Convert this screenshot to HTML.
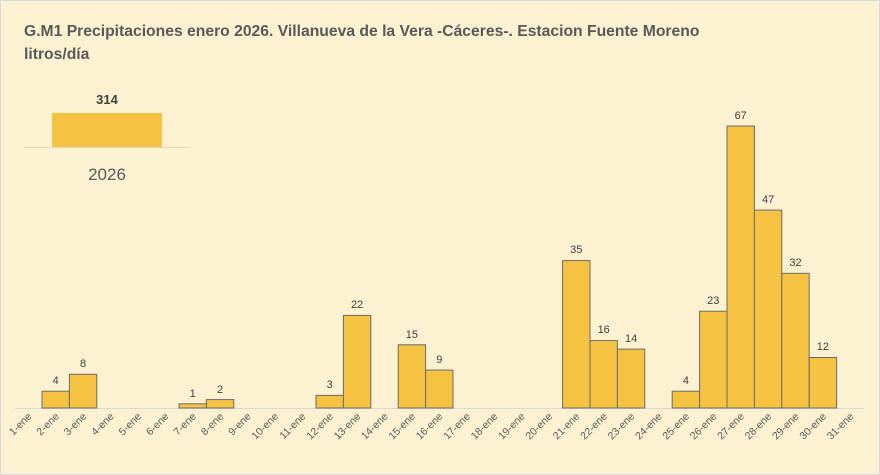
<!DOCTYPE html>
<html><head><meta charset="utf-8"><style>
html,body{margin:0;padding:0;background:#fff}
svg{display:block;font-family:"Liberation Sans",Arial,sans-serif}
</style></head><body>
<svg width="880" height="475" viewBox="0 0 880 475" xmlns="http://www.w3.org/2000/svg">
<rect x="0.5" y="0.5" width="879" height="474" fill="#fcf2d2" stroke="#d9d9d9"/>
<text x="24" y="36" font-size="15.7" font-weight="bold" fill="#595959">G.M1 Precipitaciones enero 2026. Villanueva de la Vera -Cáceres-. Estacion Fuente Moreno</text>
<text x="24" y="59" font-size="15.7" font-weight="bold" fill="#595959">litros/día</text>
<text x="107" y="104" font-size="13" font-weight="bold" fill="#404040" text-anchor="middle">314</text>
<rect x="52" y="113" width="110" height="34" fill="#f5c242"/>
<line x1="24" y1="147.5" x2="190" y2="147.5" stroke="#e0d8c0"/>
<text x="107" y="180" font-size="17" fill="#595959" text-anchor="middle">2026</text>
<line x1="15" y1="408.5" x2="864" y2="408.5" stroke="#d9d9d9"/>
<g fill="#f5c242" stroke="#6b6b6b" stroke-width="1">
<rect x="42.0" y="391.2" width="27.4" height="16.8"/>
<rect x="69.4" y="374.3" width="27.4" height="33.7"/>
<rect x="179.0" y="403.8" width="27.4" height="4.2"/>
<rect x="206.4" y="399.6" width="27.4" height="8.4"/>
<rect x="316.0" y="395.4" width="27.4" height="12.6"/>
<rect x="343.4" y="315.4" width="27.4" height="92.6"/>
<rect x="398.2" y="344.8" width="27.4" height="63.2"/>
<rect x="425.6" y="370.1" width="27.4" height="37.9"/>
<rect x="562.6" y="260.6" width="27.4" height="147.4"/>
<rect x="590.0" y="340.6" width="27.4" height="67.4"/>
<rect x="617.4" y="349.1" width="27.4" height="58.9"/>
<rect x="672.2" y="391.2" width="27.4" height="16.8"/>
<rect x="699.6" y="311.2" width="27.4" height="96.8"/>
<rect x="727.0" y="126.0" width="27.4" height="282"/>
<rect x="754.4" y="210.1" width="27.4" height="197.9"/>
<rect x="781.8" y="273.3" width="27.4" height="134.7"/>
<rect x="809.2" y="357.5" width="27.4" height="50.5"/>
</g>
<g font-size="11" fill="#404040" text-anchor="middle">
<text x="55.7" y="384">4</text><text x="83.1" y="367">8</text>
<text x="192.7" y="397">1</text><text x="220.1" y="393">2</text>
<text x="329.7" y="388">3</text><text x="357.1" y="308">22</text>
<text x="411.9" y="338">15</text><text x="439.3" y="363">9</text>
<text x="576.3" y="253">35</text><text x="603.7" y="333">16</text>
<text x="631.1" y="342">14</text><text x="685.9" y="384">4</text>
<text x="713.3" y="304">23</text><text x="740.7" y="119">67</text>
<text x="768.1" y="203">47</text><text x="795.5" y="266">32</text>
<text x="822.9" y="350">12</text>
</g>
<g font-size="10.5" fill="#595959" text-anchor="end">
<text transform="translate(32.3,417) rotate(-45)">1-ene</text>
<text transform="translate(59.7,417) rotate(-45)">2-ene</text>
<text transform="translate(87.1,417) rotate(-45)">3-ene</text>
<text transform="translate(114.5,417) rotate(-45)">4-ene</text>
<text transform="translate(141.9,417) rotate(-45)">5-ene</text>
<text transform="translate(169.3,417) rotate(-45)">6-ene</text>
<text transform="translate(196.7,417) rotate(-45)">7-ene</text>
<text transform="translate(224.1,417) rotate(-45)">8-ene</text>
<text transform="translate(251.5,417) rotate(-45)">9-ene</text>
<text transform="translate(278.9,417) rotate(-45)">10-ene</text>
<text transform="translate(306.3,417) rotate(-45)">11-ene</text>
<text transform="translate(333.7,417) rotate(-45)">12-ene</text>
<text transform="translate(361.1,417) rotate(-45)">13-ene</text>
<text transform="translate(388.5,417) rotate(-45)">14-ene</text>
<text transform="translate(415.9,417) rotate(-45)">15-ene</text>
<text transform="translate(443.3,417) rotate(-45)">16-ene</text>
<text transform="translate(470.7,417) rotate(-45)">17-ene</text>
<text transform="translate(498.1,417) rotate(-45)">18-ene</text>
<text transform="translate(525.5,417) rotate(-45)">19-ene</text>
<text transform="translate(552.9,417) rotate(-45)">20-ene</text>
<text transform="translate(580.3,417) rotate(-45)">21-ene</text>
<text transform="translate(607.7,417) rotate(-45)">22-ene</text>
<text transform="translate(635.1,417) rotate(-45)">23-ene</text>
<text transform="translate(662.5,417) rotate(-45)">24-ene</text>
<text transform="translate(689.9,417) rotate(-45)">25-ene</text>
<text transform="translate(717.3,417) rotate(-45)">26-ene</text>
<text transform="translate(744.7,417) rotate(-45)">27-ene</text>
<text transform="translate(772.1,417) rotate(-45)">28-ene</text>
<text transform="translate(799.5,417) rotate(-45)">29-ene</text>
<text transform="translate(826.9,417) rotate(-45)">30-ene</text>
<text transform="translate(854.3,417) rotate(-45)">31-ene</text>
</g>
</svg>
</body></html>
